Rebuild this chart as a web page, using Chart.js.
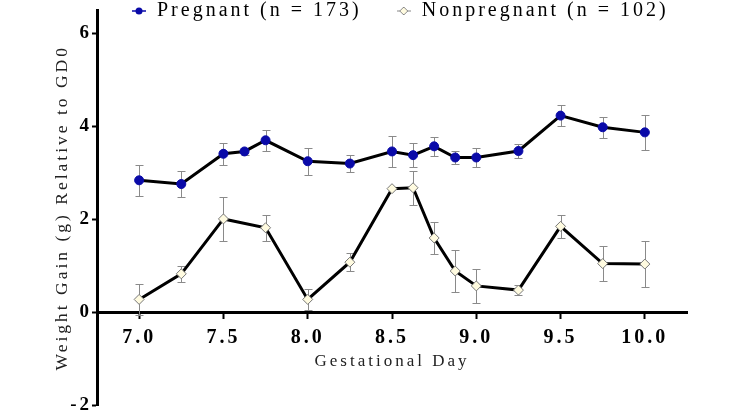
<!DOCTYPE html>
<html>
<head>
<meta charset="utf-8">
<script src="https://cdn.jsdelivr.net/npm/chart.js@4.4.1/dist/chart.umd.min.js"></script>
<style>
  html, body { margin: 0; padding: 0; background: #fff; }
  #chart { display: block; }
</style>
</head>
<body>
<canvas id="chart" width="745" height="415"></canvas>
<script>
// gestational day of each weighing
const days = [7.0, 7.25, 7.5, 7.625, 7.75, 8.0, 8.25, 8.5, 8.625, 8.75, 8.875, 9.0, 9.25, 9.5, 9.75, 10.0];

// mean weight gain (g) and error (g)
const pregnant = [2.84, 2.76, 3.41, 3.46, 3.70, 3.25, 3.20, 3.46, 3.38, 3.57, 3.33, 3.33, 3.47, 4.23, 3.98, 3.87];
const pregnantErr = [0.33, 0.27, 0.24, 0.08, 0.22, 0.29, 0.19, 0.34, 0.26, 0.21, 0.15, 0.21, 0.15, 0.23, 0.23, 0.38];

const nonpregnant = [0.28, 0.83, 2.01, null, 1.82, 0.28, 1.08, 2.66, 2.68, 1.60, 0.89, 0.57, 0.48, 1.85, 1.05, 1.04];
const nonpregnantErr = [0.33, 0.17, 0.47, null, 0.28, 0.22, 0.20, 0, 0.37, 0.35, 0.46, 0.36, 0.10, 0.24, 0.37, 0.49];

const xTicks = [7.0, 7.5, 8.0, 8.5, 9.0, 9.5, 10.0];
const yTicks = [-2, 0, 2, 4, 6];

const serif = "'Liberation Serif', 'Times New Roman', serif";
const blue = '#0a0aa8';
const cream = '#fffbe0';

// little "line + marker" images for the legend
function legendMark(draw) {
  const c = document.createElement('canvas');
  c.width = 14;
  c.height = 10;
  draw(c.getContext('2d'));
  return c;
}
const marks = [
  legendMark(function (g) {
    g.strokeStyle = blue; g.lineWidth = 1.5;
    g.beginPath(); g.moveTo(0, 5); g.lineTo(14, 5); g.stroke();
    g.fillStyle = blue;
    g.beginPath(); g.arc(7, 5, 3.5, 0, Math.PI * 2); g.fill();
  }),
  legendMark(function (g) {
    g.strokeStyle = '#888'; g.lineWidth = 1;
    g.beginPath(); g.moveTo(0, 5); g.lineTo(14, 5); g.stroke();
    g.fillStyle = cream;
    g.beginPath(); g.moveTo(7, 1); g.lineTo(11, 5); g.lineTo(7, 9); g.lineTo(3, 5); g.closePath();
    g.fill(); g.stroke();
  })
];

// wide letter spacing like the original figure
const spacing = {
  id: 'spacing',
  beforeUpdate(chart) { chart.ctx.letterSpacing = '3px'; },
  beforeDraw(chart) { chart.ctx.letterSpacing = '3px'; }
};

// the legend sits over the empty top of the plot, one row wide
const legendBox = {
  id: 'legendBox',
  afterLayout(chart) {
    const lg = chart.legend;
    lg.right = chart.width;
    lg.bottom = 32;
    lg.width = lg.right - lg.left;
    lg.height = lg.bottom - lg.top;
  }
};

const errorBars = {
  id: 'errorBars',
  beforeDatasetsDraw(chart) {
    const ctx = chart.ctx;
    const xs = chart.scales.x, ys = chart.scales.y;
    ctx.save();
    ctx.strokeStyle = '#8a8a8a';
    ctx.lineWidth = 1;
    chart.data.datasets.forEach(function (ds) {
      ds.data.forEach(function (p, i) {
        const e = ds.errors[i];
        if (p.y == null || !e) return;
        const px = Math.round(xs.getPixelForValue(p.x)) + 0.5;
        const top = Math.round(ys.getPixelForValue(p.y + e)) + 0.5;
        const bot = Math.round(ys.getPixelForValue(p.y - e)) + 0.5;
        ctx.beginPath();
        ctx.moveTo(px, top); ctx.lineTo(px, bot);
        ctx.moveTo(px - 4, top); ctx.lineTo(px + 4, top);
        ctx.moveTo(px - 4, bot); ctx.lineTo(px + 4, bot);
        ctx.stroke();
      });
    });
    ctx.restore();
  }
};

new Chart(document.getElementById('chart'), {
  type: 'line',
  data: {
    datasets: [
      {
        label: 'Pregnant (n = 173)',
        data: days.map((d, i) => ({ x: d, y: pregnant[i] })),
        errors: pregnantErr,
        borderColor: '#000',
        borderWidth: 3,
        pointStyle: 'circle',
        pointRadius: 4.5,
        pointBackgroundColor: blue,
        pointBorderColor: blue,
        pointBorderWidth: 1,
        tension: 0
      },
      {
        label: 'Nonpregnant (n = 102)',
        data: days.map((d, i) => ({ x: d, y: nonpregnant[i] })),
        errors: nonpregnantErr,
        spanGaps: true,
        borderColor: '#000',
        borderWidth: 3,
        pointStyle: 'rectRot',
        pointRadius: 5,
        pointBackgroundColor: cream,
        pointBorderColor: '#777',
        pointBorderWidth: 1,
        tension: 0
      }
    ]
  },
  options: {
    responsive: false,
    animation: false,
    layout: { padding: { top: -33, right: 58, bottom: -47, left: 45 } },
    plugins: {
      tooltip: { enabled: false },
      legend: {
        position: 'top',
        align: 'start',
        fullSize: false,
        maxHeight: 43,
        labels: {
          usePointStyle: true,
          boxWidth: 16,
          padding: 34,
          color: '#000',
          font: { family: serif, size: 20 },
          generateLabels(chart) {
            const items = Chart.defaults.plugins.legend.labels.generateLabels(chart);
            items.forEach(function (it, i) { it.pointStyle = marks[i]; });
            return items;
          }
        }
      }
    },
    scales: {
      x: {
        type: 'linear',
        position: { y: 0 },
        min: 6.75,
        max: 10.25,
        afterBuildTicks(s) { s.ticks = xTicks.map(v => ({ value: v })); },
        afterFit(s) { s.height = 60; },
        grid: { drawOnChartArea: false, tickLength: 5, tickWidth: 2, tickColor: '#000' },
        border: { color: '#000', width: 3 },
        ticks: {
          autoSkip: false,
          maxRotation: 0,
          padding: 8,
          color: '#000',
          font: { family: serif, size: 20, weight: 'bold' },
          callback: v => Number(v).toFixed(1)
        },
        title: {
          display: true,
          text: 'Gestational Day',
          color: '#222',
          font: { family: serif, size: 17 },
          padding: { top: 0, bottom: 1 }
        }
      },
      y: {
        min: -2,
        max: 6.5,
        afterBuildTicks(s) { s.ticks = yTicks.map(v => ({ value: v })); },
        afterFit(s) { s.width = 52; },
        grid: { drawOnChartArea: false, tickLength: 5, tickWidth: 2, tickColor: '#000' },
        border: { color: '#000', width: 3 },
        ticks: {
          padding: 0,
          color: '#000',
          font: { family: serif, size: 19, weight: 'bold', lineHeight: 1 }
        },
        title: {
          display: true,
          text: 'Weight Gain (g) Relative to GD0',
          color: '#222',
          font: { family: serif, size: 17.5 },
          padding: { top: 7, bottom: 0 }
        }
      }
    }
  },
  plugins: [spacing, legendBox, errorBars]
});
</script>
</body>
</html>
